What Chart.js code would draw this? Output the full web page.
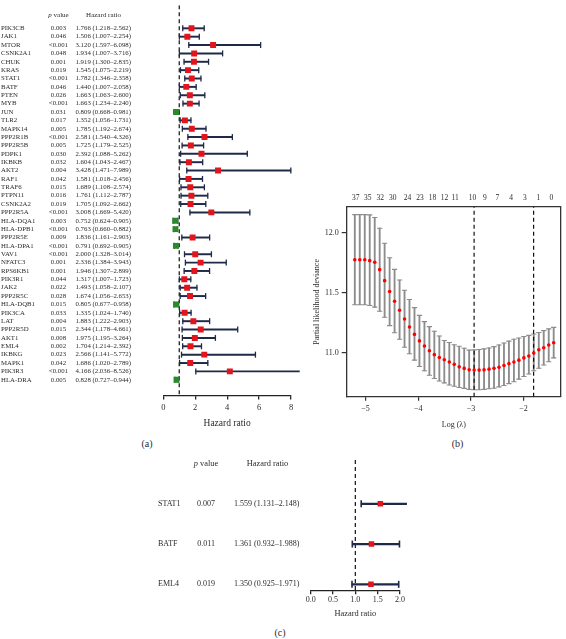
<!DOCTYPE html>
<html>
<head>
<meta charset="utf-8">
<script src="https://cdn.jsdelivr.net/npm/chart.js@4.4.0/dist/chart.umd.min.js"></script>
<style>
  html, body { margin: 0; padding: 0; background: #fff; }
  body { width: 566px; height: 639px; position: relative; overflow: hidden;
         font-family: 'Liberation Serif', 'Times New Roman', serif; color: #2b2b2b; }
  canvas { position: absolute; }
  .lbl { position: absolute; transform: translate(-50%, -50%); white-space: nowrap; line-height: 1; }
</style>
</head>
<body>
<canvas id="chartA" width="300" height="433" style="left:0;top:0"></canvas>
<canvas id="chartB" width="266" height="254" style="left:300px;top:180px"></canvas>
<canvas id="chartC" width="260" height="173" style="left:150px;top:450px"></canvas>

<div class="lbl" style="left:58.5px;top:15px;font-size:7px"><i>p</i> value</div>
<div class="lbl" style="left:103.5px;top:15px;font-size:7px">Hazard ratio</div>
<div class="lbl" style="left:147px;top:444px;font-size:10px">(a)</div>
<div class="lbl" style="left:457.5px;top:444px;font-size:10px">(b)</div>
<div class="lbl" style="left:206px;top:464px;font-size:8.4px"><i>p</i> value</div>
<div class="lbl" style="left:267.5px;top:464px;font-size:8.4px">Hazard ratio</div>
<div class="lbl" style="left:280px;top:633px;font-size:10px">(c)</div>

<script>
// panel (a): univariate Cox results
const genes = ['PIK3CB', 'JAK1', 'MTOR', 'CSNK2A1', 'CHUK', 'KRAS', 'STAT1', 'BATF', 'PTEN', 'MYB',
  'JUN', 'TLR2', 'MAPK14', 'PPP2R1B', 'PPP2R5B', 'PDPK1', 'IKBKB', 'AKT2', 'RAF1', 'TRAF6',
  'PTPN11', 'CSNK2A2', 'PPP2R5A', 'HLA-DQA1', 'HLA-DPB1', 'PPP2R5E', 'HLA-DPA1', 'VAV1', 'NFATC3', 'RPS6KB1',
  'PIK3R1', 'JAK2', 'PPP2R5C', 'HLA-DQB1', 'PIK3CA', 'LAT', 'PPP2R5D', 'AKT1', 'EML4', 'IKBKG',
  'MAPK1', 'PIK3R3', 'HLA-DRA'];
const pValues = ['0.003', '0.046', '<0.001', '0.048', '0.001', '0.019', '<0.001', '0.046', '0.026', '<0.001',
  '0.031', '0.017', '0.005', '<0.001', '0.005', '0.030', '0.032', '0.004', '0.042', '0.015',
  '0.016', '0.019', '<0.001', '0.003', '<0.001', '0.009', '<0.001', '<0.001', '0.001', '0.001',
  '0.044', '0.022', '0.028', '0.015', '0.033', '0.004', '0.015', '0.008', '0.002', '0.023',
  '0.042', '<0.001', '0.005'];
const hazard = [1.766, 1.506, 3.120, 1.934, 1.919, 1.545, 1.782, 1.440, 1.663, 1.663,
  0.809, 1.352, 1.785, 2.581, 1.725, 2.392, 1.604, 3.428, 1.581, 1.689,
  1.761, 1.705, 3.008, 0.752, 0.763, 1.836, 0.791, 2.000, 2.336, 1.946,
  1.317, 1.493, 1.674, 0.805, 1.335, 1.883, 2.344, 1.975, 1.704, 2.566,
  1.686, 4.166, 0.828];
const lower = [1.218, 1.007, 1.597, 1.007, 1.300, 1.075, 1.346, 1.007, 1.063, 1.234,
  0.668, 1.056, 1.192, 1.540, 1.179, 1.088, 1.043, 1.471, 1.018, 1.108,
  1.112, 1.092, 1.669, 0.624, 0.660, 1.161, 0.692, 1.328, 1.384, 1.307,
  1.007, 1.058, 1.056, 0.677, 1.024, 1.222, 1.178, 1.195, 1.214, 1.141,
  1.020, 2.036, 0.727];
const upper = [2.562, 2.254, 6.098, 3.716, 2.835, 2.219, 2.358, 2.058, 2.600, 2.240,
  0.981, 1.731, 2.674, 4.326, 2.525, 5.262, 2.467, 7.989, 2.456, 2.574,
  2.787, 2.662, 5.420, 0.905, 0.882, 2.903, 0.905, 3.014, 3.943, 2.899,
  1.723, 2.107, 2.653, 0.958, 1.740, 2.903, 4.661, 3.264, 2.392, 5.772,
  2.789, 8.526, 0.944];

// panel (b): LASSO cross-validation curve
const logLambda = [-5.205, -5.111, -5.016, -4.922, -4.827, -4.733, -4.639, -4.544, -4.450, -4.355,
  -4.261, -4.167, -4.072, -3.978, -3.883, -3.789, -3.695, -3.600, -3.506, -3.411,
  -3.317, -3.223, -3.128, -3.034, -2.939, -2.845, -2.751, -2.656, -2.562, -2.467,
  -2.373, -2.279, -2.184, -2.090, -1.995, -1.901, -1.807, -1.712, -1.618, -1.523, -1.429];
const cvMean = [11.777, 11.777, 11.777, 11.769, 11.756, 11.694, 11.602, 11.511, 11.430, 11.355,
  11.282, 11.215, 11.153, 11.099, 11.056, 11.016, 10.984, 10.960, 10.941, 10.922,
  10.903, 10.882, 10.869, 10.857, 10.855, 10.855, 10.857, 10.863, 10.871, 10.879,
  10.893, 10.909, 10.922, 10.938, 10.957, 10.973, 10.997, 11.024, 11.042, 11.065, 11.083];
const cvUpper = [12.153, 12.153, 12.153, 12.151, 12.129, 12.040, 11.914, 11.793, 11.696, 11.607,
  11.522, 11.444, 11.377, 11.312, 11.260, 11.218, 11.180, 11.140, 11.102, 11.086,
  11.067, 11.054, 11.038, 11.022, 11.024, 11.027, 11.032, 11.040, 11.051, 11.065,
  11.081, 11.097, 11.113, 11.123, 11.135, 11.145, 11.156, 11.169, 11.185, 11.199, 11.212];
const cvLower = [11.401, 11.401, 11.401, 11.395, 11.381, 11.347, 11.296, 11.226, 11.167, 11.113,
  11.046, 10.992, 10.938, 10.885, 10.849, 10.812, 10.785, 10.764, 10.748, 10.731,
  10.720, 10.710, 10.702, 10.694, 10.691, 10.691, 10.694, 10.699, 10.704, 10.715,
  10.726, 10.742, 10.758, 10.780, 10.801, 10.823, 10.849, 10.871, 10.898, 10.925, 10.957];
const nzeroLabels = ['37', '35', '32', '30', '24', '23', '18', '12', '11', '10', '9', '7', '4', '3', '1', '0'];
const nzeroPos = [-5.187, -4.957, -4.720, -4.483, -4.203, -3.968, -3.731, -3.502, -3.302,
  -2.972, -2.737, -2.500, -2.239, -1.978, -1.722, -1.474];
const lambdaLines = [-2.94, -1.81];

// panel (c): multivariate Cox results
const genesC = ['STAT1', 'BATF', 'EML4'];
const pValuesC = ['0.007', '0.011', '0.019'];
const hazardC = [1.559, 1.361, 1.350];
const lowerC = [1.131, 0.932, 0.925];
const upperC = [2.148, 1.988, 1.971];

const serif = "'Liberation Serif', 'Times New Roman', serif";
const ink = '#2b2b2b';
const navy = '#1f2a48';
const red = '#e3141c';
const green = '#2a8a2a';

function hrText(h, l, u) {
  return h.map(function (v, i) {
    return v.toFixed(3) + ' (' + l[i].toFixed(3) + '\u2013' + u[i].toFixed(3) + ')';
  });
}

// a y-axis that only prints one table column
function textAxis(weight, width, labels, align, pad, size, min, max) {
  return {
    type: 'linear', position: 'left', reverse: true, weight: weight, min: min, max: max,
    offset: false,
    afterBuildTicks: function (s) { s.ticks = labels.map(function (l, i) { return { value: i }; }); },
    afterFit: function (s) { s.width = width; s.paddingTop = 0; s.paddingBottom = 0; },
    grid: { display: false, drawTicks: false, offset: false },
    border: { display: false },
    ticks: {
      autoSkip: false, crossAlign: align, padding: pad, color: ink,
      font: { family: serif, size: size },
      callback: function (v, i) { return labels[i]; }
    }
  };
}

function forestDatasets(h, l, u, lineW, capR, boxR, yMin, yMax) {
  return [
    {
      type: 'scatter', order: 0,
      data: h.map(function (v, i) { return { x: v, y: i }; }),
      pointStyle: 'rect', pointRadius: boxR, pointBorderWidth: 0,
      pointBackgroundColor: h.map(function (v) { return v < 1 ? green : red; })
    },
    {
      type: 'scatter', order: 1,
      data: l.map(function (v, i) { return { x: v, y: i }; })
        .concat(u.map(function (v, i) { return { x: v, y: i }; })),
      pointStyle: 'line', pointRotation: 90, pointRadius: capR,
      pointBorderColor: navy, pointBorderWidth: lineW, clip: false
    },
    {
      type: 'bar', order: 2, indexAxis: 'y',
      data: l.map(function (v, i) { return { x: [v, u[i]], y: i }; }),
      backgroundColor: navy, borderWidth: 0, barThickness: lineW, clip: false
    },
    {
      type: 'line', order: 3,
      data: [{ x: 1, y: yMin }, { x: 1, y: yMax }],
      borderColor: '#222', borderWidth: 1.3, borderDash: [4, 3], pointRadius: 0
    }
  ];
}

const common = {
  responsive: false, animation: false, events: [],
  plugins: { legend: { display: false }, tooltip: { enabled: false } }
};

// ---- panel (a)
var yMinA = -2.75, yMaxA = 43.87;
new Chart(document.getElementById('chartA'), {
  type: 'scatter',
  data: { datasets: forestDatasets(hazard, lower, upper, 1.3, 3, 4.2, yMinA, yMaxA) },
  options: Object.assign({}, common, {
    layout: { padding: { left: 1, right: 9, top: 0, bottom: 0 } },
    scales: {
      x: {
        type: 'linear', min: 0, max: 8, offset: false,
        ticks: { stepSize: 2, color: ink, padding: 3, font: { family: serif, size: 8.5 } },
        grid: { drawOnChartArea: false, drawTicks: true, tickLength: 4, color: '#222', lineWidth: 1.3 },
        border: { display: true, color: '#222', width: 1.3 },
        title: { display: true, text: 'Hazard ratio', color: ink, padding: { top: 2, bottom: 4 },
          font: { family: serif, size: 9.5 } }
      },
      y: textAxis(3, 45, genes, 'far', 0, 6.8, yMinA, yMaxA),
      yp: textAxis(2, 22, pValues, 'center', 0, 6.8, yMinA, yMaxA),
      yh: textAxis(1, 95.3, hrText(hazard, lower, upper), 'near', 32.3, 6.8, yMinA, yMaxA)
    }
  })
});

// ---- panel (b)
var bData = [
  {
    type: 'scatter', order: 0,
    data: logLambda.map(function (x, i) { return { x: x, y: cvMean[i] }; }),
    pointStyle: 'circle', pointRadius: 1.8, pointBorderWidth: 0, pointBackgroundColor: '#ff0000'
  },
  {
    type: 'scatter', order: 2,
    data: logLambda.map(function (x, i) { return { x: x, y: cvUpper[i] }; })
      .concat(logLambda.map(function (x, i) { return { x: x, y: cvLower[i] }; })),
    pointStyle: 'line', pointRadius: 2.6, pointBorderColor: '#8c8c8c', pointBorderWidth: 1.1
  },
  {
    type: 'bar', order: 3,
    data: logLambda.map(function (x, i) { return { x: x, y: [cvLower[i], cvUpper[i]] }; }),
    backgroundColor: '#8c8c8c', borderWidth: 0, barThickness: 1.2
  }
];
lambdaLines.forEach(function (v) {
  bData.push({
    type: 'line', order: 1,
    data: [{ x: v, y: 10.632 }, { x: v, y: 12.217 }],
    borderColor: '#111', borderWidth: 1.2, borderDash: [4, 3], pointRadius: 0
  });
});

var boxLine = { display: true, color: '#333', width: 1.3 };
new Chart(document.getElementById('chartB'), {
  type: 'scatter',
  data: { datasets: bData },
  options: Object.assign({}, common, {
    layout: { padding: { left: 8, right: 1, top: 10, bottom: 0 } },
    scales: {
      x: {
        type: 'linear', min: -5.359, max: -1.292, offset: false,
        ticks: { stepSize: 1, includeBounds: false, color: ink, padding: 3,
          font: { family: serif, size: 8 },
          callback: function (v) { return '\u2212' + Math.abs(v); } },
        grid: { drawOnChartArea: false, drawTicks: true, tickLength: 4, color: '#333', lineWidth: 1.2, offset: false },
        border: boxLine,
        title: { display: true, text: 'Log (\u03bb)', color: ink, padding: { top: 4, bottom: 4 },
          font: { family: serif, size: 8 } }
      },
      xTop: {
        type: 'linear', position: 'top', min: -5.359, max: -1.292,
        afterBuildTicks: function (s) { s.ticks = nzeroPos.map(function (v) { return { value: v }; }); },
        ticks: { autoSkip: false, maxRotation: 0, padding: 4, color: ink,
          font: { family: serif, size: 7.5 },
          callback: function (v, i) { return nzeroLabels[i]; } },
        grid: { display: false, drawTicks: false },
        border: boxLine
      },
      y: {
        type: 'linear', min: 10.632, max: 12.217, beginAtZero: false,
        afterFit: function (s) { s.width = 38.7; },
        ticks: { stepSize: 0.5, includeBounds: false, color: ink, padding: 3,
          font: { family: serif, size: 8 },
          callback: function (v) { return v.toFixed(1); } },
        grid: { drawOnChartArea: false, drawTicks: true, tickLength: 5, color: '#333', lineWidth: 1.2 },
        border: boxLine,
        title: { display: true, text: 'Partial likelihood deviance', color: ink,
          padding: { top: 4, bottom: 4 }, font: { family: serif, size: 8 } }
      },
      yR: {
        type: 'linear', position: 'right', min: 0, max: 1,
        ticks: { display: false },
        grid: { display: false, drawTicks: false },
        border: boxLine
      }
    }
  })
});

// ---- panel (c)
var yMinC = -1.086, yMaxC = 2.148;
new Chart(document.getElementById('chartC'), {
  type: 'scatter',
  data: { datasets: forestDatasets(hazardC, lowerC, upperC, 1.6, 3.5, 3.9, yMinC, yMaxC) },
  options: Object.assign({}, common, {
    layout: { padding: { left: 8, right: 10, top: 10, bottom: 0 } },
    scales: {
      x: {
        type: 'linear', min: 0, max: 2, offset: false,
        ticks: { stepSize: 0.5, color: ink, padding: 1, font: { family: serif, size: 8 },
          callback: function (v) { return v.toFixed(1); } },
        grid: { drawOnChartArea: false, drawTicks: true, tickLength: 4, color: '#222', lineWidth: 1.3 },
        border: { display: true, color: '#222', width: 1.3 },
        title: { display: true, text: 'Hazard ratio', color: ink, padding: { top: 3, bottom: 4 },
          font: { family: serif, size: 8.4 } }
      },
      y: textAxis(3, 32, genesC, 'far', 0, 8, yMinC, yMaxC),
      yp: textAxis(2, 25, pValuesC, 'near', 0, 8, yMinC, yMaxC),
      yh: textAxis(1, 95.7, hrText(hazardC, lowerC, upperC), 'near', 11.4, 8, yMinC, yMaxC)
    }
  })
});
</script>
</body>
</html>
